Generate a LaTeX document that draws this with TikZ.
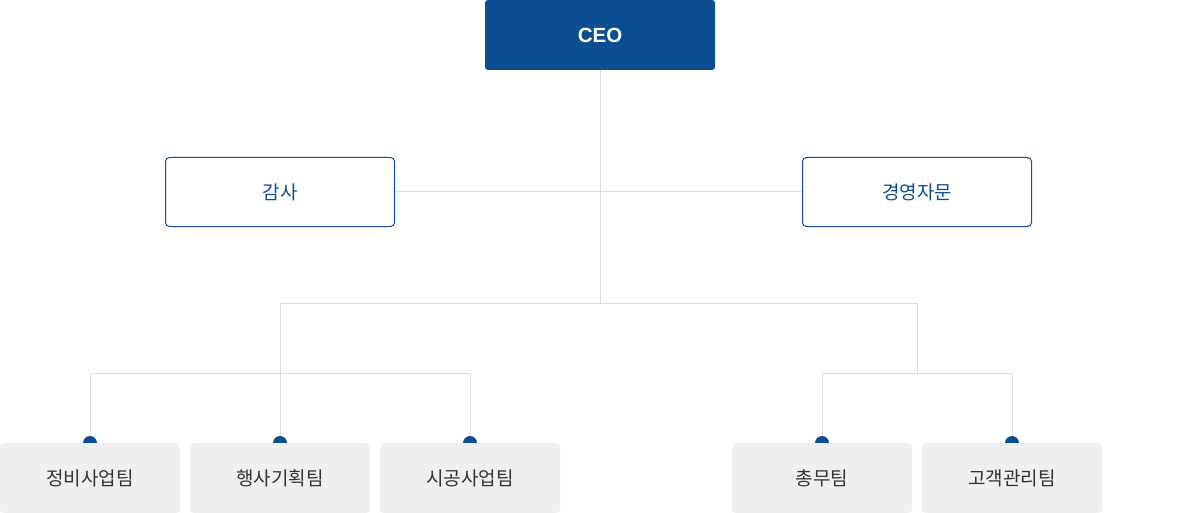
\documentclass[tikz,border=0pt]{standalone}
\usepackage{fontspec}
\setmainfont{Noto Sans CJK KR}
\newfontfamily\ceofont{Liberation Sans}
\definecolor{navy}{HTML}{0B4F92}
\definecolor{lineg}{HTML}{DCDCDC}
\definecolor{boxg}{HTML}{EFEFEF}
\definecolor{txt}{HTML}{333333}
\begin{document}
\begin{tikzpicture}[x=1pt,y=-1pt,
  ceobox/.style={fill=navy,rounded corners=3pt,minimum width=230pt,minimum height=70pt,inner sep=0pt,text=white,font=\ceofont\fontsize{20.5}{24}\selectfont\bfseries},
  sidebox/.style={draw=navy,line width=1pt,fill=white,rounded corners=4pt,minimum width=229pt,minimum height=69pt,inner sep=0pt,text=navy,font=\fontsize{19}{23}\selectfont},
  teambox/.style={fill=boxg,rounded corners=4pt,minimum width=180pt,minimum height=70pt,inner sep=0pt,text=txt,font=\fontsize{19}{23}\selectfont},
  conn/.style={draw=lineg,line width=1pt},
  dot/.style={circle,fill=navy,minimum size=14pt,inner sep=0pt}]
\useasboundingbox (0,0) rectangle (1201,513);
% junction points
\coordinate (j2) at (600,303);
\coordinate (l0) at (280,303);
\coordinate (r0) at (917,303);
\coordinate (l1) at (280,373);
\coordinate (r1) at (917,373);
\coordinate (la) at (90,373);
\coordinate (lc) at (470,373);
\coordinate (ra) at (822,373);
\coordinate (rb) at (1012,373);
\node[ceobox] (ceo) at (600,35) {CEO};
\node[sidebox] (audit) at (280,192) {감사};
\node[sidebox] (advice) at (917,192) {경영자문};
\draw[conn] (ceo.south) -- (j2);
\draw[conn] (audit.east) -- (advice.west);
\draw[conn] (l0) -- (r0);
\draw[conn] (l0) -- (l1);
\draw[conn] (r0) -- (r1);
\draw[conn] (la) -- (lc);
\draw[conn] (ra) -- (rb);
\node[dot] (d1) at (90,443) {};
\node[dot] (d2) at (280,443) {};
\node[dot] (d3) at (470,443) {};
\node[dot] (d4) at (822,443) {};
\node[dot] (d5) at (1012,443) {};
\draw[conn] (la) -- (d1.north);
\draw[conn] (l1) -- (d2.north);
\draw[conn] (lc) -- (d3.north);
\draw[conn] (ra) -- (d4.north);
\draw[conn] (rb) -- (d5.north);
\node[teambox] (t1) at (90,478) {정비사업팀};
\node[teambox] (t2) at (280,478) {행사기획팀};
\node[teambox] (t3) at (470,478) {시공사업팀};
\node[teambox] (t4) at (822,478) {총무팀};
\node[teambox] (t5) at (1012,478) {고객관리팀};
\end{tikzpicture}
\end{document}
